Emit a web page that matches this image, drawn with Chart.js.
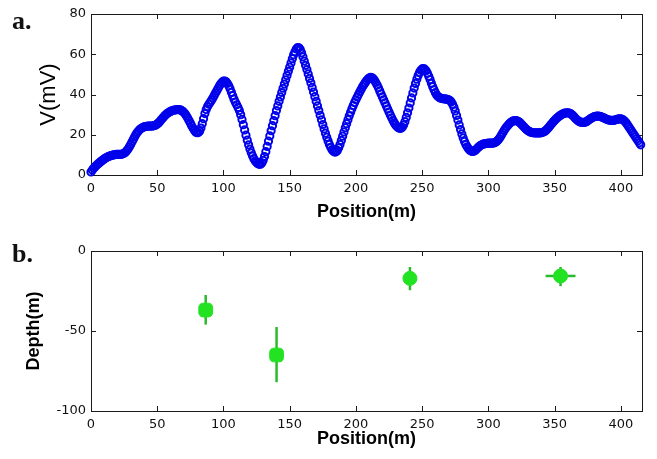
<!DOCTYPE html>
<html><head><meta charset="utf-8">
<script src="https://cdn.jsdelivr.net/npm/chart.js@4.4.1/dist/chart.umd.min.js"></script>
<style>
html,body{margin:0;padding:0;background:#fff;}
#wrap{position:relative;width:657px;height:459px;overflow:hidden;background:#fff;}
canvas{position:absolute;left:0;}
.lbl{position:absolute;left:12px;font:bold 26px "Liberation Serif","Times New Roman",serif;line-height:1;color:#111;}
</style></head><body>
<div id="wrap">
<canvas id="c1" width="657" height="230" style="top:0;width:657px;height:230px"></canvas>
<canvas id="c2" width="657" height="229" style="top:230px;width:657px;height:229px"></canvas>
<div class="lbl" style="top:8px">a.</div>
<div class="lbl" style="top:241px">b.</div>
</div>
<script>
// ---- data (panel a): self-potential profile, one reading per metre from 0 m ----
const posStart = 0;
const posStep = 1;
const voltage = [
1.5,2.5,3.3,4.0,4.7,5.3,5.9,6.5,7.0,7.5,
8.0,8.4,8.8,9.1,9.4,9.6,9.8,10.0,10.1,10.2,
10.2,10.2,10.2,10.3,10.5,10.8,11.3,12.0,12.9,14.0,
15.2,16.5,17.8,19.0,20.2,21.2,22.0,22.7,23.2,23.6,
23.9,24.1,24.2,24.3,24.3,24.3,24.3,24.4,24.6,24.9,
25.3,25.9,26.6,27.4,28.2,29.0,29.7,30.3,30.8,31.2,
31.6,31.9,32.1,32.3,32.4,32.5,32.5,32.4,32.2,31.8,
31.2,30.4,29.4,28.3,27.1,25.8,24.5,23.3,22.2,21.4,
21.0,21.1,21.8,23.3,25.5,28.0,30.5,32.5,34.0,35.2,
36.2,37.2,38.3,39.5,40.7,41.9,43.1,44.3,45.3,46.1,
46.6,46.7,46.3,45.5,44.3,42.8,41.1,39.4,37.7,36.2,
34.9,33.6,32.0,30.0,27.6,25.0,22.4,19.8,17.3,15.0,
12.9,11.0,9.4,8.1,7.0,6.2,5.6,5.3,5.4,6.0,
7.3,9.2,11.6,14.2,16.8,19.4,22.0,24.5,27.0,29.5,
32.0,34.3,36.6,38.8,41.0,43.1,45.2,47.3,49.4,51.5,
53.6,55.7,57.8,59.7,61.3,62.6,63.3,63.2,62.3,60.7,
58.7,56.6,54.5,52.4,50.2,48.0,45.8,43.5,41.2,38.9,
36.6,34.3,32.0,29.7,27.4,25.1,22.9,20.8,18.8,16.9,
15.2,13.8,12.6,11.8,11.4,11.5,12.2,13.5,15.2,17.2,
19.3,21.4,23.5,25.5,27.5,29.4,31.2,32.9,34.5,36.0,
37.4,38.8,40.1,41.4,42.6,43.8,44.9,45.9,46.8,47.6,
48.2,48.5,48.4,47.9,47.1,46.0,44.7,43.3,41.8,40.3,
38.8,37.3,35.8,34.3,32.8,31.3,29.8,28.4,27.1,25.9,
24.9,24.1,23.5,23.2,23.2,23.7,24.8,26.5,28.6,30.9,
33.3,35.8,38.3,40.8,43.2,45.5,47.6,49.4,50.9,52.0,
52.7,52.9,52.6,51.8,50.6,49.1,47.4,45.6,43.9,42.3,
40.9,39.8,39.0,38.5,38.2,38.0,37.9,37.8,37.7,37.6,
37.4,37.0,36.3,35.2,33.7,31.8,29.6,27.3,24.9,22.6,
20.4,18.4,16.7,15.2,14.0,13.0,12.3,11.9,11.7,11.8,
12.2,12.8,13.5,14.1,14.6,15.0,15.3,15.5,15.6,15.7,
15.8,15.8,15.8,15.8,15.9,16.1,16.5,17.1,17.9,18.9,
20.0,21.1,22.2,23.2,24.1,24.9,25.6,26.2,26.6,26.9,
27.0,27.0,26.8,26.4,25.9,25.2,24.5,23.8,23.1,22.5,
22.0,21.6,21.3,21.1,21.0,20.9,20.9,20.9,20.9,20.9,
21.0,21.2,21.5,21.9,22.5,23.2,24.0,24.8,25.6,26.4,
27.1,27.8,28.4,29.0,29.5,29.9,30.3,30.6,30.8,30.9,
30.9,30.8,30.5,30.0,29.4,28.7,28.0,27.3,26.8,26.4,
26.2,26.1,26.1,26.2,26.5,26.9,27.4,27.9,28.3,28.7,
29.0,29.2,29.3,29.3,29.2,29.0,28.7,28.4,28.1,27.8,
27.5,27.3,27.2,27.1,27.1,27.2,27.4,27.6,27.8,27.9,
27.9,27.7,27.3,26.7,25.9,25.0,24.0,23.0,22.0,21.0,
20.0,19.0,18.0,17.0,16.0,15.0
];
// ---- data (panel b): estimated source positions and depths with error bars ----
const srcPos     = [86.6, 140.1, 240.8, 354.5];
const srcDepth   = [-36.9, -65.0, -17.1, -15.6];
const depthLow   = [-46.0, -82.0, -24.5, -22.0];
const depthHigh  = [-27.5, -47.5, -10.0, -10.0];
const posLow     = [86.6, 140.1, 240.8, 343.2];
const posHigh    = [86.6, 140.1, 240.8, 365.8];
const srcMarker  = ['rectRounded', 'rectRounded', 'circle', 'circle'];
// ---- tick labels ----
const xTicks  = [0, 50, 100, 150, 200, 250, 300, 350, 400];
const vTicks  = [0, 20, 40, 60, 80];
const dTicks  = [-100, -50, 0];

const tickFont = {family: '"DejaVu Sans", sans-serif', size: 13};
const titleFamily = '"Liberation Sans", Arial, sans-serif';

const framePlugin = {
  id: 'frame',
  beforeDatasetsDraw(chart) {
    const {ctx, chartArea: a, scales} = chart;
    ctx.save();
    ctx.strokeStyle = '#1a1a1a';
    ctx.lineWidth = 1;
    const L = 5;
    ctx.beginPath();
    scales.x.ticks.forEach(t => {
      const px = Math.round(scales.x.getPixelForValue(t.value)) + 0.5;
      ctx.moveTo(px, a.bottom); ctx.lineTo(px, a.bottom - L);
      ctx.moveTo(px, a.top); ctx.lineTo(px, a.top + L);
    });
    scales.y.ticks.forEach(t => {
      const py = Math.round(scales.y.getPixelForValue(t.value)) + 0.5;
      ctx.moveTo(a.left, py); ctx.lineTo(a.left + L, py);
      ctx.moveTo(a.right, py); ctx.lineTo(a.right - L, py);
    });
    ctx.stroke();
    ctx.strokeRect(Math.round(a.left) + 0.5, Math.round(a.top) + 0.5,
                   Math.round(a.right - a.left), Math.round(a.bottom - a.top));
    ctx.restore();
  }
};

function xScale(height, titlePad) {
  return {
    type: 'linear', min: 0, max: 416,
    afterBuildTicks: s => { s.ticks = xTicks.map(v => ({value: v})); },
    afterFit: s => { s.height = height; },
    grid: {display: false, drawTicks: false},
    border: {display: false},
    ticks: {font: tickFont, color: '#111', padding: 6, maxRotation: 0, autoSkip: false,
            callback: v => String(v)},
    title: {display: true, text: 'Position(m)', color: '#000',
            font: {family: titleFamily, size: 18, weight: 'bold'},
            padding: {top: 0, bottom: titlePad}}
  };
}

const commonOpts = {
  responsive: false, animation: false, maintainAspectRatio: false,
  plugins: {legend: {display: false}, tooltip: {enabled: false}}
};

// Panel a
new Chart(document.getElementById('c1'), {
  type: 'scatter',
  data: {
    datasets: [{
      data: voltage.map((v, i) => ({x: posStart + i * posStep, y: v})),
      pointStyle: 'circle', pointRadius: 3.6, borderWidth: 2,
      borderColor: 'rgb(0,0,235)', backgroundColor: 'rgba(0,0,0,0)',
      clip: false
    }]
  },
  options: Object.assign({}, commonOpts, {
    layout: {padding: {top: 14, right: 15, left: 0, bottom: 0}},
    scales: {
      x: xScale(55, 7),
      y: {
        type: 'linear', min: 0, max: 80,
        afterBuildTicks: s => { s.ticks = vTicks.map(v => ({value: v})); },
        afterFit: s => { s.width = 91; },
        grid: {display: false, drawTicks: false},
        border: {display: false},
        ticks: {font: tickFont, color: '#111', padding: 5, callback: v => String(v)},
        title: {display: true, text: 'V(mV)', color: '#000',
                font: {family: titleFamily, size: 22, weight: 'normal'},
                padding: {top: 36, bottom: 0}}
      }
    }
  }),
  plugins: [framePlugin]
});

// Panel b
const barColor = 'rgb(45,185,45)';
const markColor = 'rgb(34,226,34)';
const errSets = [];
srcPos.forEach((x, i) => {
  errSets.push({data: [{x: x, y: depthLow[i]}, {x: x, y: depthHigh[i]}],
    showLine: true, borderColor: barColor, borderWidth: 2.5, pointRadius: 0,
    borderCapStyle: 'butt', order: 2, clip: false});
  if (posHigh[i] > posLow[i]) {
    errSets.push({data: [{x: posLow[i], y: srcDepth[i]}, {x: posHigh[i], y: srcDepth[i]}],
      showLine: true, borderColor: barColor, borderWidth: 2.5, pointRadius: 0,
      borderCapStyle: 'butt', order: 2, clip: false});
  }
});

new Chart(document.getElementById('c2'), {
  type: 'scatter',
  data: {
    datasets: errSets.concat([{
      data: srcPos.map((x, i) => ({x: x, y: srcDepth[i]})),
      pointStyle: srcMarker, pointRadius: [8, 8, 7, 7], borderWidth: 1,
      borderColor: markColor, backgroundColor: markColor, order: 1, clip: false
    }])
  },
  options: Object.assign({}, commonOpts, {
    layout: {padding: {top: 21, right: 15, left: 0, bottom: 0}},
    scales: {
      x: xScale(48, 9),
      y: {
        type: 'linear', min: -100, max: 0,
        afterBuildTicks: s => { s.ticks = dTicks.map(v => ({value: v})); },
        afterFit: s => { s.width = 91; },
        grid: {display: false, drawTicks: false},
        border: {display: false},
        ticks: {font: tickFont, color: '#111', padding: 5, callback: v => String(v)},
        title: {display: true, text: 'Depth(m)', color: '#000',
                font: {family: titleFamily, size: 18, weight: 'bold'},
                padding: {top: 23, bottom: 0}}
      }
    }
  }),
  plugins: [framePlugin]
});
</script>
</body></html>
